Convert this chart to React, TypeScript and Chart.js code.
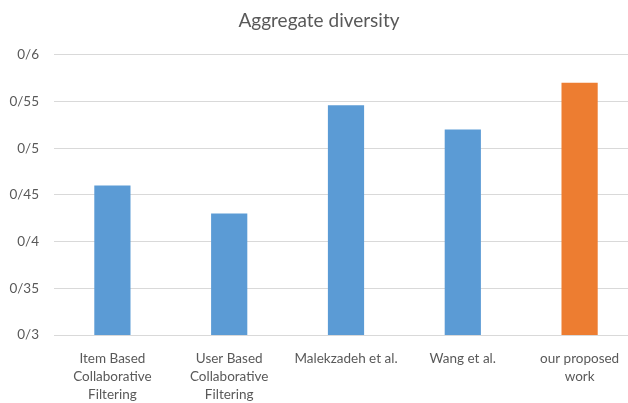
import React, { useEffect, useRef } from "react";
import { Chart, registerables } from "chart.js";

Chart.register(...registerables);

const categories: string[][] = [
  ["Item Based", "Collaborative", "Filtering"],
  ["User Based", "Collaborative", "Filtering"],
  ["Malekzadeh et al."],
  ["Wang et al."],
  ["our proposed", "work"],
];
const values: number[] = [0.46, 0.43, 0.546, 0.52, 0.57];
const barColors: string[] = ["#5B9BD5", "#5B9BD5", "#5B9BD5", "#5B9BD5", "#ED7D31"];
const yTickLabels: string[] = ["0/3", "0/35", "0/4", "0/45", "0/5", "0/55", "0/6"];
const titleText = "Aggregate diversity";

const FONT = "Lato, 'Liberation Sans', sans-serif";
const TEXT = "#595959";

export default function App() {
  const ref = useRef<HTMLCanvasElement | null>(null);
  useEffect(() => {
    if (!ref.current) return;
    const chart = new Chart(ref.current, {
      type: "bar",
      data: {
        labels: categories as any,
        datasets: [
          {
            data: values,
            backgroundColor: barColors,
            borderWidth: 0,
            categoryPercentage: 1,
            barPercentage: 0.31,
          },
        ],
      },
      options: {
        responsive: false,
        animation: false,
        layout: { padding: { left: 0, right: 2, top: 0, bottom: 0 } },
        plugins: {
          legend: { display: false },
          tooltip: { enabled: false },
          title: {
            display: true,
            text: titleText,
            color: TEXT,
            font: { family: FONT, size: 19, weight: "normal" },
            padding: { top: 9, bottom: 23 },
          },
        },
        scales: {
          x: {
            grid: { display: false },
            border: { display: false },
            ticks: {
              color: TEXT,
              font: { family: FONT, size: 13.5, lineHeight: 1.36 },
              maxRotation: 0,
              autoSkip: false,
              padding: 6,
            },
            afterFit: (s: any) => {
              s.height = 68;
            },
          },
          y: {
            min: 0.3,
            max: 0.6,
            grid: { color: "#d9d9d9", lineWidth: 1, drawTicks: false },
            border: { display: false },
            ticks: {
              stepSize: 0.05,
              color: TEXT,
              font: { family: FONT, size: 13.5 },
              padding: 15,
              crossAlign: "near",
              callback: (_v: any, i: number) => yTickLabels[i],
            },
            afterFit: (s: any) => {
              s.width = 54;
            },
          },
        },
      },
    });
    return () => chart.destroy();
  }, []);
  return (
    <div style={{ position: "fixed", left: 0, top: 0, width: 640, height: 403, background: "#fff" }}>
      <canvas ref={ref} width={640} height={403} />
    </div>
  );
}
